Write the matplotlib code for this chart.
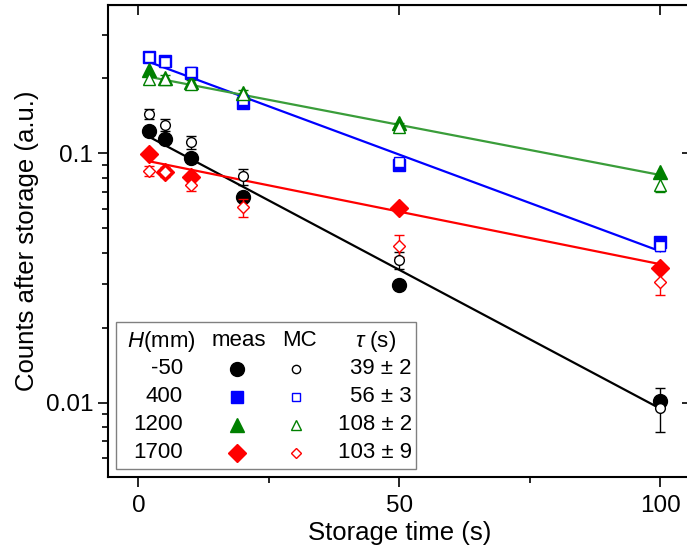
import numpy as np
import matplotlib
matplotlib.use('Agg')
import matplotlib.pyplot as plt
from matplotlib.patches import Rectangle
from matplotlib.ticker import FixedLocator, NullLocator, NullFormatter, LogLocator

plt.rcParams['font.family'] = ['Liberation Sans', 'DejaVu Sans']
plt.rcParams['mathtext.fontset'] = 'custom'
plt.rcParams['mathtext.rm'] = 'Liberation Sans'
plt.rcParams['mathtext.it'] = 'Liberation Sans:italic'

# storage times (s)
t = [2, 5, 10, 20, 50, 100]
t_1700 = [2, 5, 10, 50, 100]

# measured counts
meas_m50 = [0.123, 0.114, 0.096, 0.067, 0.0296, 0.0101]
meas_400 = [0.244, 0.236, 0.211, 0.160, 0.090, 0.044]
meas_1200 = [0.217, 0.201, 0.193, 0.175, 0.133, 0.084]
meas_1700 = [0.0993, 0.0845, 0.0803, 0.0603, 0.0346]

# Monte Carlo counts and errors
mc_m50 = [0.144, 0.130, 0.111, 0.081, 0.0374, 0.0095]
mc_m50_err = [0.007, 0.007, 0.007, 0.006, 0.003, 0.0019]
mc_400 = [0.245, 0.233, 0.212, 0.164, 0.092, 0.0425]
mc_400_err = [0.009, 0.008, 0.008, 0.007, 0.004, 0.002]
mc_1200 = [0.199, 0.199, 0.190, 0.173, 0.128, 0.075]
mc_1200_err = [0.008, 0.008, 0.007, 0.007, 0.005, 0.005]
mc_1700 = [0.0853, 0.0845, 0.0747, 0.0608, 0.0426, 0.0306]
mc_1700_err = [0.004, 0.004, 0.004, 0.005, 0.0043, 0.0035]

# exponential fits
heights = ['-50', '400', '1200', '1700']
tau = [39, 56, 108, 103]
tau_err = [2, 3, 2, 9]
amp = [0.1229, 0.2416, 0.2069, 0.0949]

W, H = 687, 551
fig = plt.figure(figsize=(W / 100, H / 100), dpi=100)


def fpos(x, y):
    return x / W, 1 - y / H


ax = fig.add_axes([107.7 / W, 1 - 476.7 / H, (692 - 107.7) / W, (476.7 - 5) / H])

series = [
    (t, meas_m50, t, mc_m50, mc_m50_err, 'o', 10, 7, 'black', 'black'),
    (t, meas_400, t, mc_400, mc_400_err, 's', 9, 7, 'blue', 'blue'),
    (t, meas_1200, t, mc_1200, mc_1200_err, '^', 10.5, 8, 'green', '#3a9d3a'),
    (t_1700, meas_1700, t, mc_1700, mc_1700_err, 'D', 9.5, 6.2, 'red', 'red'),
]

tt = np.linspace(2, 100, 200)
for i, (tm, ym, tc, yc, ec, mk, ms1, ms2, col, lcol) in enumerate(series):
    ax.plot(tt, amp[i] * np.exp(-tt / tau[i]), color=lcol, lw=1.6, zorder=2)
    ax.plot(tm, ym, ls='none', marker=mk, ms=ms1, color=col, mec=col, zorder=3)
    ax.errorbar(tc, yc, yerr=ec, fmt=mk, ms=ms2, mfc='white', mec=col, mew=1.0,
                ecolor=col, elinewidth=1.0, capsize=3.6, capthick=1.0, zorder=4)

ax.set_yscale('log')
ax.set_xlim(-5.9, 106.1)
ax.set_ylim(0.00504, 0.3945)
ax.set_xticks([0, 50, 100])
ax.xaxis.set_minor_locator(FixedLocator([25, 75]))
ax.yaxis.set_major_locator(FixedLocator([0.01, 0.1]))
ax.set_yticklabels(['0.01', '0.1'])
ax.yaxis.set_minor_locator(LogLocator(base=10, subs=np.arange(2, 10)))
ax.yaxis.set_minor_formatter(NullFormatter())

ax.tick_params(which='major', direction='out', length=7, width=1.2, labelsize=17.5)
ax.tick_params(axis='x', which='major', pad=6)
ax.tick_params(which='minor', direction='out', length=4, width=1.2)
for s in ax.spines.values():
    s.set_linewidth(1.5)

top = ax.secondary_xaxis('top')
top.set_xticks([0, 50, 100])
top.xaxis.set_minor_locator(NullLocator())
top.tick_params(direction='in', length=7, width=1.2, labeltop=False)
right = ax.secondary_yaxis('right')
right.set_yticks([0.01, 0.1])
right.yaxis.set_minor_locator(NullLocator())
right.tick_params(direction='in', length=7, width=1.2, labelright=False)

ax.set_xlabel('Storage time (s)', fontsize=18.5, labelpad=3)
ax.set_ylabel('Counts after storage (a.u.)', fontsize=18.5, labelpad=5)

# table-style legend
x0, y0 = fpos(116, 469)
x1, y1 = fpos(416, 322)
fig.patches.append(Rectangle((x0, y0), x1 - x0, y1 - y0, transform=fig.transFigure,
                             fill=True, facecolor='white', edgecolor='#808080',
                             lw=1.0, zorder=10))
fs = 16
hy = 341
fig.text(*fpos(161, hy), r'$H$(mm)', fontsize=fs, ha='center', va='center', zorder=11)
fig.text(*fpos(239, hy), 'meas', fontsize=fs, ha='center', va='center', zorder=11)
fig.text(*fpos(299, hy), 'MC', fontsize=fs, ha='center', va='center', zorder=11)
fig.text(*fpos(376, hy), r'$\tau$ (s)', fontsize=fs, ha='center', va='center', zorder=11)
rows = [369, 397, 425, 453]
for i, (tm, ym, tc, yc, ec, mk, ms1, ms2, col, lcol) in enumerate(series):
    fig.text(*fpos(183, rows[i]), heights[i], fontsize=fs, ha='right', va='center', zorder=11)
    fig.text(*fpos(412, rows[i]), f'{tau[i]} \u00b1 {tau_err[i]}', fontsize=fs,
             ha='right', va='center', zorder=11)
    mx, my = fpos(237, rows[i])
    fig.lines.append(plt.Line2D([mx], [my], transform=fig.transFigure, marker=mk,
                                ms=ms1, color=col, ls='none', zorder=11))
    mx, my = fpos(296, rows[i])
    fig.lines.append(plt.Line2D([mx], [my], transform=fig.transFigure, marker=mk,
                                ms=ms2 * 0.85, mfc='white', mec=col, mew=1.0,
                                ls='none', zorder=11))

fig.savefig('out.png', dpi=100)
